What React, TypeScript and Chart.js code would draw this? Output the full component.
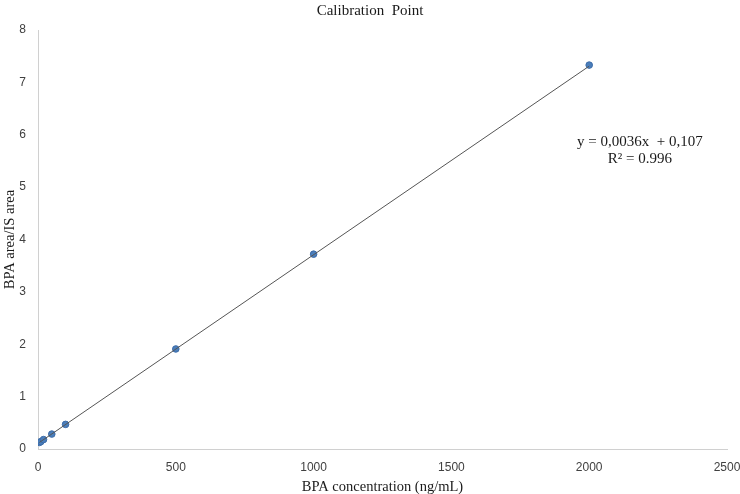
import React, { useEffect, useRef } from "react";
import { Chart, registerables } from "chart.js";

Chart.register(...registerables);

const concentrations = [5, 10, 20, 50, 100, 500, 1000, 2000];
const areaRatios = [0.125, 0.14, 0.18, 0.285, 0.47, 1.91, 3.72, 7.33];
const trendX = [5, 2000];
const trendY = [0.125, 7.31];
const xTicks = [0, 500, 1000, 1500, 2000, 2500];
const yTicks = [0, 1, 2, 3, 4, 5, 6, 7, 8];
const equationLines = ["y = 0,0036x  + 0,107", "R\u00b2 = 0.996"];
const equationAnchor = { x: 2184, y: 5.86 };

const serif = "'Liberation Serif', 'Times New Roman', serif";
const sans = "'Liberation Sans', Arial, sans-serif";

const equationPlugin = {
  id: "equationText",
  afterDatasetsDraw(chart: any) {
    const { ctx, scales } = chart;
    const px = scales.x.getPixelForValue(equationAnchor.x);
    const py = scales.y.getPixelForValue(equationAnchor.y);
    ctx.save();
    ctx.font = `15px ${serif}`;
    ctx.fillStyle = "#1a1a1a";
    ctx.textAlign = "center";
    ctx.textBaseline = "middle";
    equationLines.forEach((t, i) => ctx.fillText(t, px, py + i * 17));
    ctx.restore();
  },
};

export default function App() {
  const ref = useRef<HTMLCanvasElement>(null);
  useEffect(() => {
    document.body.style.margin = "0";
    const chart = new Chart(ref.current!, {
      type: "scatter",
      data: {
        datasets: [
          {
            type: "line",
            data: trendX.map((x, i) => ({ x, y: trendY[i] })),
            borderColor: "#555555",
            borderWidth: 1,
            pointRadius: 0,
            fill: false,
          },
          {
            data: concentrations.map((x, i) => ({ x, y: areaRatios[i] })),
            backgroundColor: "#4a7ebb",
            borderColor: "#3d6ca8",
            borderWidth: 1,
            pointRadius: 3.3,
          },
        ],
      },
      options: {
        animation: false,
        responsive: false,
        layout: { padding: { top: 0, right: 0, left: 0, bottom: 0 } },
        plugins: {
          legend: { display: false },
          tooltip: { enabled: false },
          title: {
            display: true,
            text: "Calibration  Point",
            color: "#1a1a1a",
            font: { family: serif, size: 15, weight: "normal", lineHeight: 1.2 },
            padding: { top: 2, bottom: 10 },
          },
        },
        scales: {
          x: {
            type: "linear",
            min: 0,
            max: 2500,
            afterBuildTicks: (s: any) => {
              s.ticks = xTicks.map((v) => ({ value: v }));
            },
            afterFit: (s: any) => {
              s.height = 45;
              s.paddingRight = 13;
            },
            grid: { display: false, drawTicks: false },
            border: { display: true, color: "#d0d0d0", width: 1 },
            ticks: {
              color: "#404040",
              font: { family: sans, size: 12 },
              padding: 11,
              maxRotation: 0,
              callback: (v: any) => String(v),
            },
            title: {
              display: true,
              text: "BPA concentration (ng/mL)",
              color: "#1a1a1a",
              font: { family: serif, size: 14.5, lineHeight: 1 },
              padding: { top: 0, bottom: 0 },
            },
          },
          y: {
            type: "linear",
            min: 0,
            max: 8,
            afterBuildTicks: (s: any) => {
              s.ticks = yTicks.map((v) => ({ value: v }));
            },
            afterFit: (s: any) => {
              s.width = 38;
            },
            grid: { display: false, drawTicks: false },
            border: { display: true, color: "#d0d0d0", width: 1 },
            ticks: {
              color: "#404040",
              font: { family: sans, size: 12 },
              padding: 12,
              callback: (v: any) => String(v),
            },
            title: {
              display: true,
              text: "BPA area/IS area",
              color: "#1a1a1a",
              font: { family: serif, size: 14.5, lineHeight: 1.2 },
              padding: { top: 1, bottom: 0 },
            },
          },
        },
      },
      plugins: [equationPlugin],
    });
    return () => chart.destroy();
  }, []);
  return <canvas ref={ref} width={740} height={494} style={{ display: "block" }} />;
}
